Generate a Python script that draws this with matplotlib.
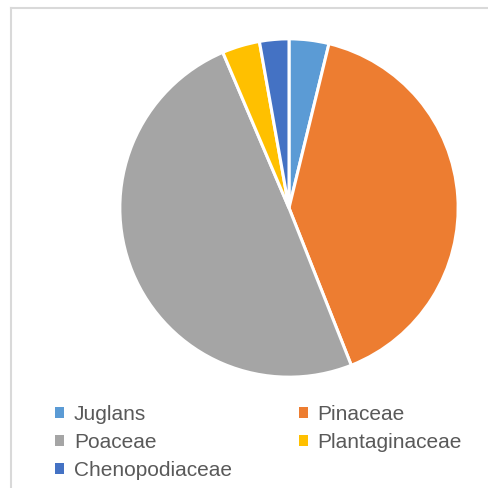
import matplotlib.pyplot as plt
from matplotlib.lines import Line2D

# pollen families, share of total (%)
labels = ['Juglans', 'Pinaceae', 'Poaceae', 'Plantaginaceae', 'Chenopodiaceae']
shares = [3.8, 40.2, 49.6, 3.6, 2.8]
colors = ['#5B9BD5', '#ED7D31', '#A5A5A5', '#FFC000', '#4472C4']

plt.rcParams['font.family'] = ['Liberation Sans', 'DejaVu Sans']

fig = plt.figure(figsize=(4.89, 4.88), dpi=100)

# chart frame (only left and top edges are visible in the crop)
fig.add_artist(Line2D([11.5 / 489, 11.5 / 489], [0, 1 - 8 / 488], color='#d9d9d9', lw=1.5))
fig.add_artist(Line2D([11.5 / 489, 1], [1 - 8 / 488, 1 - 8 / 488], color='#d9d9d9', lw=1.5))

ax = fig.add_axes([(289 - 170) / 489, 1 - (208 + 170) / 488, 340 / 489, 340 / 488])
wedges, _ = ax.pie(shares, colors=colors, startangle=90, counterclock=False,
                   wedgeprops=dict(edgecolor='white', linewidth=2.2))
ax.set_xlim(-1.005, 1.005)
ax.set_ylim(-1.005, 1.005)
ax.set_aspect('equal')

# legend order: two columns, row by row
order = [0, 2, 4, 1, 3]
leg = fig.legend([wedges[i] for i in order], [labels[i] for i in order],
                 ncol=2, mode='expand', loc='upper left',
                 bbox_to_anchor=(55 / 489, 1 - 410 / 488, (462 - 55) / 489, 0.01),
                 frameon=False, fontsize=15, handlelength=0.45, handleheight=0.45,
                 handletextpad=0.45, labelspacing=0.42, borderpad=0, borderaxespad=0,
                 labelcolor='#595959')
for h in leg.legend_handles:
    h.set_edgecolor('none')

fig.savefig('out.png', dpi=100)
